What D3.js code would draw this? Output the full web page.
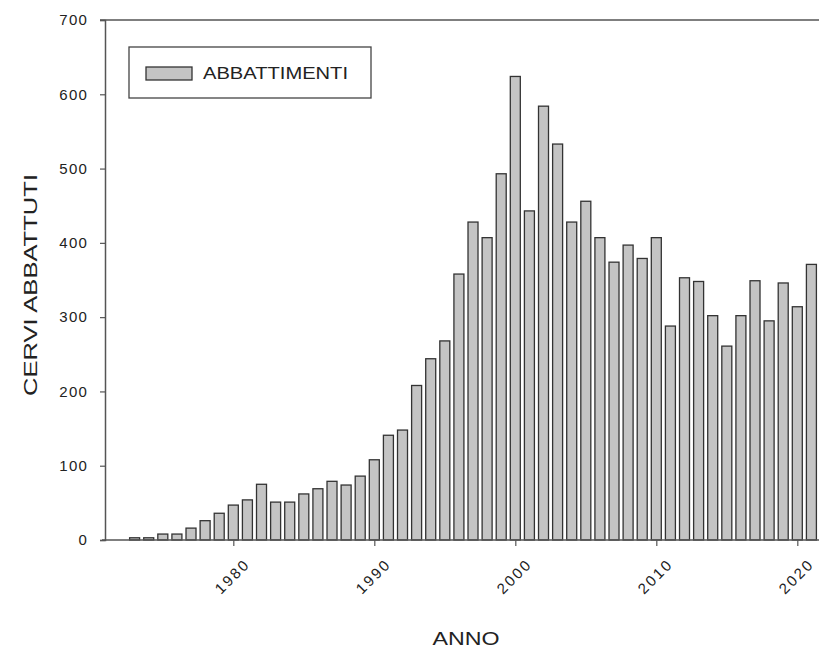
<!DOCTYPE html>
<html>
<head>
<meta charset="utf-8">
<script src="https://cdn.jsdelivr.net/npm/d3@7"></script>
<style>
  body { margin: 0; background: #fff; }
  svg { display: block; font-family: "Liberation Sans", Arial, sans-serif; }
</style>
</head>
<body>
<div id="chart_holder"></div>
<script>
// anni e cervi abbattuti
let years = [1973, 1974, 1975, 1976, 1977, 1978, 1979, 1980, 1981, 1982,
  1983, 1984, 1985, 1986, 1987, 1988, 1989, 1990, 1991, 1992,
  1993, 1994, 1995, 1996, 1997, 1998, 1999, 2000, 2001, 2002,
  2003, 2004, 2005, 2006, 2007, 2008, 2009, 2010, 2011, 2012,
  2013, 2014, 2015, 2016, 2017, 2018, 2019, 2020, 2021]
let abbattimenti = [3, 3, 8, 8, 16, 26, 36, 47, 54, 75,
  51, 51, 62, 69, 79, 74, 86, 108, 141, 148,
  208, 244, 268, 358, 428, 407, 493, 624, 443, 584,
  533, 428, 456, 407, 374, 397, 379, 407, 288, 353,
  348, 302, 261, 302, 349, 295, 346, 314, 371]
let yTicks = [0, 100, 200, 300, 400, 500, 600, 700]
let xTicks = [1980, 1990, 2000, 2010, 2020]
let seriesName = "ABBATTIMENTI"

let width = 819, height = 648
let plotLeft = 105, plotTop = 20, plotBottom = 540
let yearStep = 14.1
let barWidth = 10

let svg = d3.select('#chart_holder').append('svg')
  .attr('width', width)
  .attr('height', height)

let x = d3.scaleLinear()
  .domain([1970.9, 2023])
  .range([plotLeft, plotLeft + (2023 - 1970.9) * yearStep])

let y = d3.scaleLinear()
  .domain([0, 700])
  .range([plotBottom, plotTop])

// bars
svg.append('g')
  .selectAll('rect')
  .data(years)
  .join('rect')
    .attr('x', (d, i) => x(d) - barWidth / 2)
    .attr('y', (d, i) => y(abbattimenti[i]))
    .attr('width', barWidth)
    .attr('height', (d, i) => y(0) - y(abbattimenti[i]))
    .attr('fill', '#c4c4c4')
    .attr('stroke', '#333')
    .attr('stroke-width', 1.3)

// top frame line
svg.append('line')
  .attr('x1', plotLeft - 5).attr('x2', width)
  .attr('y1', y(700)).attr('y2', y(700))
  .attr('stroke', '#555').attr('stroke-width', 1.5)

// y axis
let yAxis = svg.append('g')
  .attr('transform', `translate(${plotLeft},0)`)
  .call(d3.axisLeft(y).tickValues(yTicks).tickSize(5).tickPadding(12))
yAxis.select('.domain').attr('stroke', '#555').attr('stroke-width', 1.5)
yAxis.selectAll('.tick line').attr('stroke', '#555').attr('stroke-width', 1.2)
yAxis.selectAll('.tick text')
  .attr('font-size', 15)
  .attr('letter-spacing', 1.2)
  .attr('fill', '#222')

// x axis
let xAxis = svg.append('g')
  .attr('transform', `translate(0,${plotBottom})`)
  .call(d3.axisBottom(x).tickValues(xTicks).tickFormat(d3.format('d')).tickSize(6).tickPadding(4))
xAxis.select('.domain')
  .attr('d', `M${plotLeft - 3},0H${width}`)
  .attr('stroke', '#555').attr('stroke-width', 1.5)
xAxis.selectAll('.tick line').attr('stroke', '#555').attr('stroke-width', 1.2)
xAxis.selectAll('.tick text')
  .attr('font-size', 15)
  .attr('letter-spacing', 2.2)
  .attr('fill', '#222')
  .attr('text-anchor', 'end')
  .attr('dy', 0)
  .attr('transform', 'translate(10,18) rotate(-45)')

// axis titles
svg.append('text')
  .attr('x', 466)
  .attr('y', 645)
  .attr('text-anchor', 'middle')
  .attr('font-size', 19)
  .attr('textLength', 67)
  .attr('lengthAdjust', 'spacingAndGlyphs')
  .attr('fill', '#222')
  .text('ANNO')

svg.append('text')
  .attr('transform', `translate(37,${(plotTop + plotBottom) / 2 + 5}) rotate(-90)`)
  .attr('text-anchor', 'middle')
  .attr('font-size', 18)
  .attr('textLength', 222)
  .attr('lengthAdjust', 'spacingAndGlyphs')
  .attr('fill', '#222')
  .text('CERVI ABBATTUTI')

// legend
let legend = svg.append('g')
legend.append('rect')
  .attr('x', 129).attr('y', 47)
  .attr('width', 242).attr('height', 51)
  .attr('fill', '#fff')
  .attr('stroke', '#444').attr('stroke-width', 1.3)
legend.append('rect')
  .attr('x', 146).attr('y', 67)
  .attr('width', 46).attr('height', 13)
  .attr('fill', '#c4c4c4')
  .attr('stroke', '#333').attr('stroke-width', 1.3)
legend.append('text')
  .attr('x', 203).attr('y', 79)
  .attr('font-size', 16)
  .attr('textLength', 145)
  .attr('lengthAdjust', 'spacingAndGlyphs')
  .attr('fill', '#222')
  .text(seriesName)
</script>
</body>
</html>
